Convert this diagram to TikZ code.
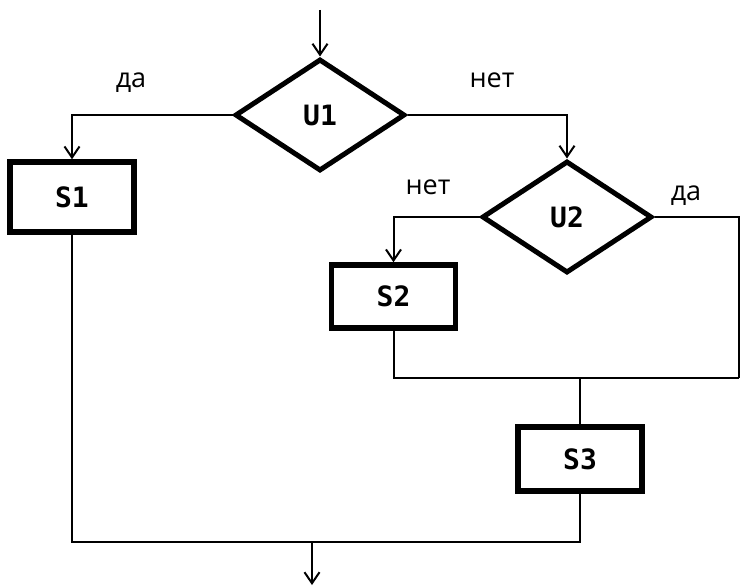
\documentclass[tikz,border=0pt]{standalone}
\usepackage{fontspec}
\setmainfont{Open Sans}
\newfontfamily\monob{DejaVu Sans Mono}
\usetikzlibrary{shapes.geometric,arrows.meta}
\begin{document}
\begin{tikzpicture}[x=1pt,y=-1pt,
  conn/.style={line width=2pt},
  arr/.style={conn,-{Straight Barb[length=11pt,width=15pt]}},
  dec/.style={diamond,draw,line width=5pt,minimum width=170pt,minimum height=112pt,inner sep=0pt,
    font=\monob\bfseries\fontsize{28}{28}\selectfont},
  proc/.style={rectangle,draw,line width=5.5pt,minimum width=124pt,minimum height=66pt,inner sep=0pt,
    font=\monob\bfseries\fontsize{28}{28}\selectfont},
  lbl/.style={font=\fontsize{27}{27}\selectfont,anchor=base,inner sep=0pt}]
\useasboundingbox (0,0) rectangle (741,586);
\fill[white] (0,0) rectangle (741,586);
\node[dec] (U1) at (320,115) {U1};
\node[dec] (U2) at (567,217) {U2};
\node[proc,minimum height=70pt] (S1) at (72,197) {S1};
\node[proc,minimum height=63pt] (S2) at (393.5,296.5) {S2};
\node[proc,minimum height=64pt] (S3) at (580,459) {S3};
\coordinate (top) at (320,10);
\coordinate (m1) at (739,378);
\coordinate (jt) at (580,378);
\coordinate (jb) at (580,542);
\coordinate (bs) at (312,542);
\coordinate (bot) at (312,585);
\draw[arr] (top) -- (U1.north);
\draw[arr] (U1.west) -| (S1.north);
\draw[arr] (U1.east) -| (U2.north);
\draw[arr] (U2.west) -| (S2.north);
\draw[conn] (U2.east) -| (m1);
\draw[conn] (S2.south) |- (m1);
\draw[conn] (jt) -- (S3.north);
\draw[conn] (S1.south) |- (jb) -- (S3.south);
\draw[arr] (bs) -- (bot);
\node[lbl] (l1) at (131,88) {да};
\node[lbl] (l2) at (492,87) {нет};
\node[lbl] (l3) at (428,194) {нет};
\node[lbl] (l4) at (686,200) {да};
\end{tikzpicture}
\end{document}
